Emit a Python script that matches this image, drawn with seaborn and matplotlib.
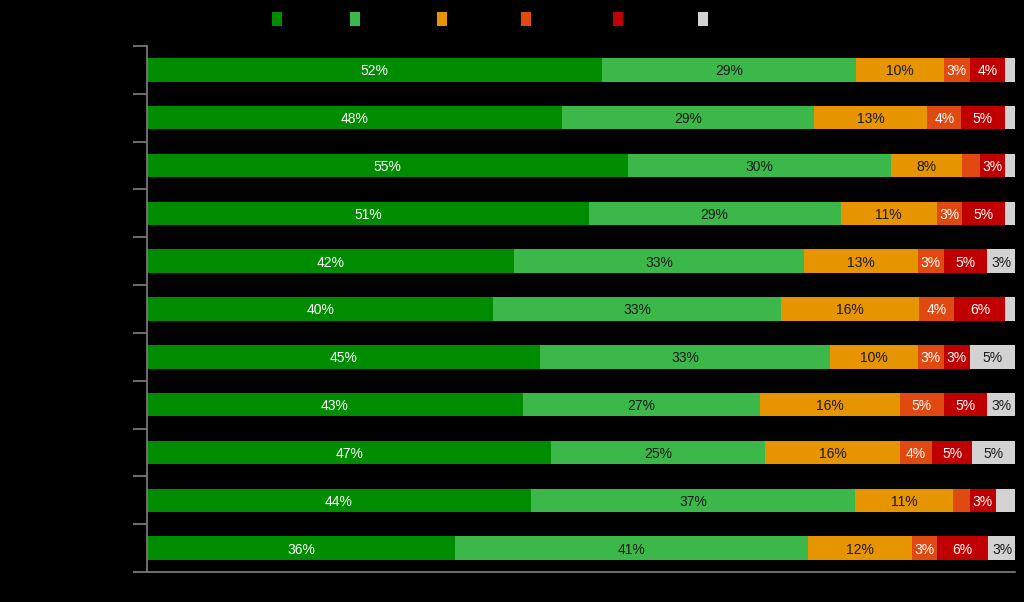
import numpy as np
import pandas as pd
import matplotlib
matplotlib.use("Agg")
import matplotlib.pyplot as plt
import seaborn as sns

categories = ["Item 1", "Item 2", "Item 3", "Item 4", "Item 5", "Item 6",
              "Item 7", "Item 8", "Item 9", "Item 10", "Item 11"]
series_names = ["Very good", "Good", "Neutral", "Poor", "Very poor", "Don't know"]
very_good = [52.4, 47.8, 55.4, 50.9, 42.3, 39.9, 45.3, 43.3, 46.6, 44.2, 35.5]
good      = [29.3, 29.1, 30.3, 29.0, 33.4, 33.1, 33.4, 27.3, 24.6, 37.4, 40.7]
neutral   = [10.1, 13.0,  8.2, 11.1, 13.1, 15.9, 10.1, 16.1, 15.6, 11.2, 11.9]
poor      = [ 3.0,  3.9,  2.1,  2.9,  3.0,  4.1,  3.0,  5.1,  3.6,  2.0,  2.9]
very_poor = [ 4.0,  5.0,  2.9,  5.0,  5.0,  5.9,  3.0,  5.0,  4.7,  3.0,  5.9]
dont_know = [ 1.2,  1.2,  1.2,  1.1,  3.2,  1.2,  5.2,  3.2,  4.9,  2.2,  3.2]

colors = ["#008c00", "#3cb84a", "#e69500", "#e04a10", "#c00000", "#d2d2d2"]
text_colors = ["white", "#1a1a1a", "#1a1a1a", "white", "white", "#1a1a1a"]
legend_x_px = [272, 350, 437, 521, 613, 698]

series = [very_good, good, neutral, poor, very_poor, dont_know]

sns.set_theme(style="white")
plt.rcParams["font.family"] = ["Liberation Sans", "DejaVu Sans"]

fig = plt.figure(figsize=(10.24, 6.02), dpi=100, facecolor="black")
ax = fig.add_axes([147/1024, 1 - 572/602, (1015 - 147)/1024, (572 - 46)/602])
ax.set_facecolor("black")

vals = np.array(series)
cum = np.cumsum(vals, axis=0)
# draw cumulative layers from widest to narrowest so they stack visually
for i in range(len(series) - 1, -1, -1):
    df = pd.DataFrame({"cat": categories, "val": cum[i]})
    sns.barplot(data=df, x="val", y="cat", orient="h", color=colors[i],
                width=0.49, saturation=1, ax=ax, label=series_names[i],
                linewidth=0)
if ax.get_legend() is not None:
    ax.get_legend().remove()

starts = cum - vals
for i in range(len(series)):
    for j in range(len(categories)):
        v = vals[i, j]
        if v >= 2.5:
            ax.text(starts[i, j] + v / 2, j + 0.03, f"{round(v):d}%", ha="center",
                    va="center", fontsize=10, color=text_colors[i])

ax.set_xlim(0, 100)
ax.set_ylim(len(categories) - 0.5, -0.5)
ax.set_xlabel("")
ax.set_ylabel("")

for s in ["top", "right"]:
    ax.spines[s].set_visible(False)
for s in ["left", "bottom"]:
    ax.spines[s].set_color("#808080")
    ax.spines[s].set_linewidth(1.2)

ax.set_xticks([])
ax.set_yticks(range(len(categories)))
ax.set_yticklabels(categories, color="black", fontsize=10)
ax.tick_params(axis="y", which="major", length=0, pad=14)
ax.set_yticks(np.arange(-0.5, len(categories), 1.0), minor=True)
ax.tick_params(axis="y", which="minor", length=10, width=1.2, color="#808080",
               direction="out", left=True)

handles, labels = ax.get_legend_handles_labels()
lookup = dict(zip(labels, handles))
for name, xpx in zip(series_names, legend_x_px):
    leg = fig.legend([lookup[name]], [name], loc="center left",
                     bbox_to_anchor=(xpx / 1024, 1 - 19.5 / 602),
                     frameon=False, fontsize=10, borderpad=0, borderaxespad=0,
                     handlelength=0.72, handleheight=1.2, handletextpad=0.5)
    for t in leg.get_texts():
        t.set_color("black")
    fig.add_artist(leg)

fig.savefig("out.png", dpi=100, facecolor="black")
